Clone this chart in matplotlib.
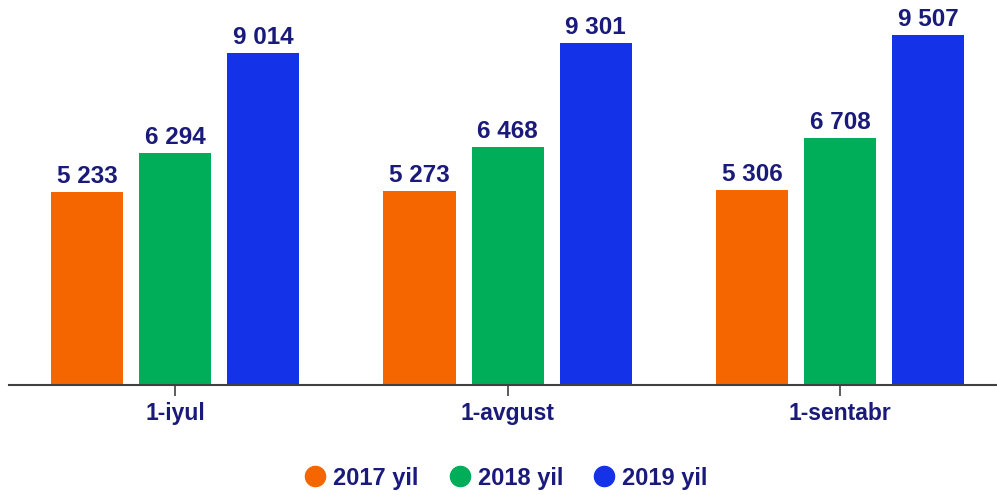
import numpy as np
import matplotlib.pyplot as plt
from matplotlib.lines import Line2D

# Data
months = ["1-iyul", "1-avgust", "1-sentabr"]
years = ["2017 yil", "2018 yil", "2019 yil"]
v2017 = [5233, 5273, 5306]
v2018 = [6294, 6468, 6708]
v2019 = [9014, 9301, 9507]

colors = ["#F56600", "#00AE5A", "#1432E8"]
text_color = "#1A1A7A"

plt.rcParams["font.family"] = ["Liberation Sans", "DejaVu Sans"]

fig = plt.figure(figsize=(9.97, 4.95), dpi=100)
ax = fig.add_axes([9 / 997, 1 - 385 / 495, 988 / 997, 385 / 495])

x = np.arange(len(months))
offset = 0.265
width = 0.217
for i, (vals, col) in enumerate(zip([v2017, v2018, v2019], colors)):
    pos = x + (i - 1) * offset
    bars = ax.bar(pos, vals, width=width, color=col)
    for b, v in zip(bars, vals):
        label = f"{v:,}".replace(",", " ")
        ax.text(b.get_x() + b.get_width() / 2, v + 110, label,
                ha="center", va="bottom", fontsize=17.5, fontweight="bold",
                color=text_color)

ax.set_xlim(-0.5, 2.472)
ax.set_ylim(0, 10460)
ax.set_xticks(x)
ax.set_xticklabels(months, fontsize=16.5, fontweight="bold", color=text_color)
ax.tick_params(axis="x", length=8, width=1.2, color="#404040", pad=4)
ax.set_yticks([])
for s in ["top", "right", "left"]:
    ax.spines[s].set_visible(False)
ax.spines["bottom"].set_color("#404040")
ax.spines["bottom"].set_linewidth(1.5)

handles = [Line2D([], [], marker="o", linestyle="", markersize=14.5,
                  markerfacecolor=c, markeredgecolor=c) for c in colors]
leg = fig.legend(handles, years, loc="center", bbox_to_anchor=(0.507, 0.034),
                 ncol=3, frameon=False, handlelength=1.0, handletextpad=0.25,
                 columnspacing=1.25, borderpad=0,
                 prop={"size": 17, "weight": "bold"})
for t in leg.get_texts():
    t.set_color(text_color)

fig.savefig("out.png", dpi=100)
